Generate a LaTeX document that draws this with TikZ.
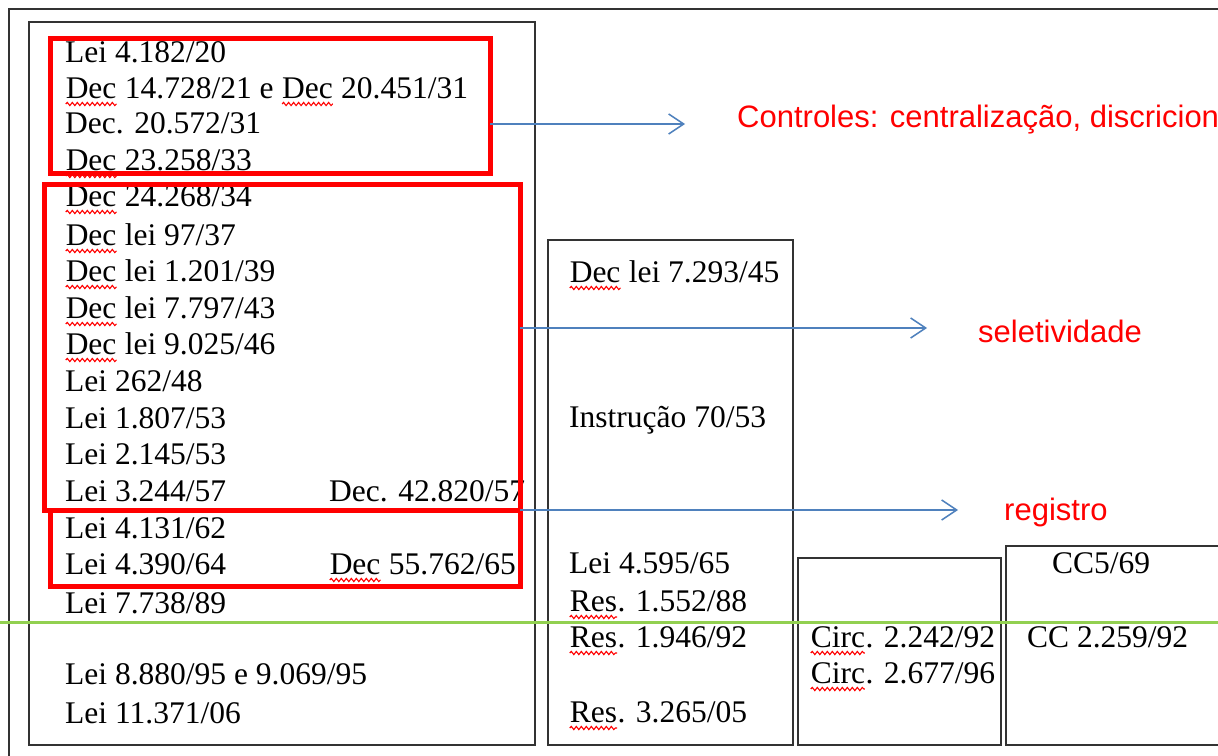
\documentclass[tikz,border=0pt]{standalone}
\usepackage{fontspec}
\setmainfont{Liberation Serif}
\newfontfamily\labelsans{Liberation Sans}
\usetikzlibrary{arrows.meta,decorations.pathmorphing}
\definecolor{linkblue}{RGB}{79,129,189}
\definecolor{splitgreen}{RGB}{146,208,80}
\definecolor{framegray}{RGB}{51,51,51}
\definecolor{markred}{RGB}{255,0,0}
% spell-check squiggle under a word
\newcommand\spell[1]{\tikz[baseline=(sw.base)]{\node[inner sep=0pt,outer sep=0pt] (sw) {#1};
  \draw[markred,line width=1.1pt,decorate,decoration={snake,amplitude=1.6pt,segment length=5pt}]
    ([yshift=-6pt]sw.base west) -- ([yshift=-6pt]sw.base east);}}

\begin{document}
\begin{tikzpicture}[x=1pt,y=-1pt,
  frame/.style={draw=framegray,line width=2pt},
  redbox/.style={draw=markred,line width=5pt,inner sep=0pt,outer sep=0pt},
  law/.style={anchor=base west,inner sep=0pt,font=\fontsize{31.5}{36}\selectfont},
  topic/.style={anchor=base west,inner sep=0pt,text=markred,font=\labelsans\fontsize{31}{36}\selectfont},
  link/.style={draw=linkblue,line width=1.5pt,-{Straight Barb[length=15pt,width=20pt]}}]
  \useasboundingbox (0,0) rectangle (1218,755);
  \clip (0,0) rectangle (1218,755);
  \fill[white] (0,0) rectangle (1218,755);
  % frames
  \draw[frame,line width=2.5pt] (9,780) -- (9,9) -- (1240,9);
  \draw[frame] (29,22) rectangle (535,745);
  \draw[frame] (548,240) rectangle (793,745);
  \draw[frame] (798,558) rectangle (1001,745);
  \draw[frame] (1006,546) rectangle (1240,745);
  % left column
  \foreach \y/\t [count=\i] in {62/{Lei 4.182/20},
      98/{\spell{Dec} 14.728/21 e \spell{Dec} 20.451/31},
      133/{Dec. 20.572/31}, 170/{\spell{Dec} 23.258/33},
      206/{\spell{Dec} 24.268/34}, 245/{\spell{Dec} lei 97/37},
      281/{\spell{Dec} lei 1.201/39}, 318/{\spell{Dec} lei 7.797/43},
      354/{\spell{Dec} lei 9.025/46}, 391/{Lei 262/48},
      428/{Lei 1.807/53}, 464/{Lei 2.145/53}, 501/{Lei 3.244/57},
      538/{Lei 4.131/62}, 574/{Lei 4.390/64}, 613/{Lei 7.738/89},
      684/{Lei 8.880/95 e 9.069/95}, 723/{Lei 11.371/06}}
    \node[law] (law\i) at (65,\y) {\t};
  \node[law] (dec57) at (329,501) {Dec. 42.820/57};
  \node[law] (dec65) at (329,574) {\spell{Dec} 55.762/65};
  % middle column
  \node[law] (dl45) at (569,282) {\spell{Dec} lei 7.293/45};
  \node[law] (in53) at (569,427) {Instrução 70/53};
  \node[law] (lei65) at (569,573) {Lei 4.595/65};
  \node[law] (res88) at (569,611) {\spell{Res}. 1.552/88};
  \node[law] (res92) at (569,647) {\spell{Res}. 1.946/92};
  \node[law] (res05) at (569,722) {\spell{Res}. 3.265/05};
  % circulars
  \node[law] (circ92) at (810,647) {\spell{Circ}. 2.242/92};
  \node[law] (circ96) at (810,683) {\spell{Circ}. 2.677/96};
  \node[law] (cc69) at (1052,573) {CC5/69};
  \node[law] (cc92) at (1027,647) {CC 2.259/92};
  % divider
  \draw[splitgreen,line width=3pt] (0,622) -- (1218,622);
  % groups
  \node[redbox,minimum width=440pt,minimum height=135pt] (grp1) at (270,105.5) {};
  \node[redbox,minimum width=476pt,minimum height=326pt] (grp2) at (282,347) {};
  \node[redbox,minimum width=470pt,minimum height=76pt] (grp3) at (285,548) {};
  % topics
  \node[topic] (ctrl) at (737,127) {Controles: centralização, discricion};
  \node[topic] (sel) at (978,342) {seletividade};
  \node[topic] (reg) at (1004,520) {registro};
  \coordinate (t1) at (685,124);
  \coordinate (t2) at (927,328);
  \coordinate (t3) at (958,510);
  \draw[link] (grp1.east |- t1) -- (t1);
  \draw[link] (grp2.east |- t2) -- (t2);
  \draw[link] (grp3.east |- t3) -- (t3);
\end{tikzpicture}
\end{document}
